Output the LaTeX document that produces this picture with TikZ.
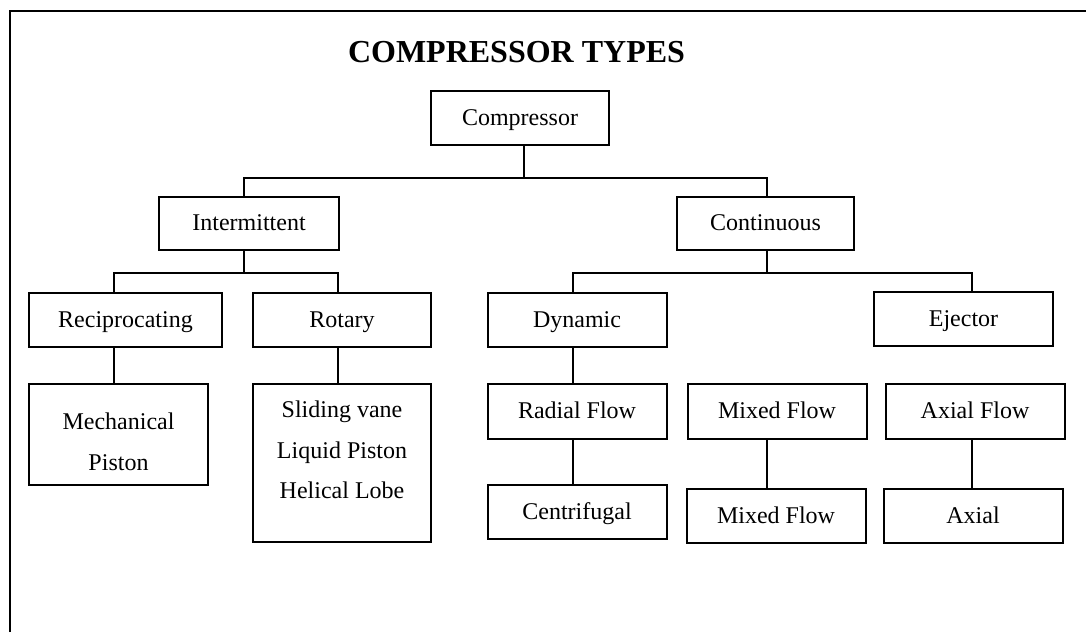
\documentclass[tikz,border=0pt]{standalone}
\usepackage{fontspec}
\setmainfont{Liberation Serif}
\tikzset{
  box/.style={draw, line width=1pt, inner sep=0pt, minimum width=89.5pt, minimum height=27pt, font=\fontsize{12}{20.25}\selectfont},
  onebox/.style={box, text height=9pt, text depth=2pt},
  link/.style={line width=0.9pt},
}
\begin{document}
\begin{tikzpicture}[x=0.5pt,y=-0.5pt]
\useasboundingbox (0,0) rectangle (1086,632);

% Outer frame (left and top edge)
\draw[line width=1.15pt] (10,632) -- (10,11) -- (1086,11);

% Title
\node[anchor=base, font=\fontsize{16}{19}\selectfont\bfseries] (title) at (516.5,62.7) {COMPRESSOR TYPES};

% Define nodes
\node[onebox, minimum width=89pt] (comp) at (520,118) {Compressor};
\node[onebox, minimum width=90pt, minimum height=26.5pt] (inter) at (249,223.5) {Intermittent};
\node[onebox, minimum width=88.5pt, minimum height=26.5pt] (cont) at (765.5,223.5) {Continuous};
\node[onebox, minimum width=96.5pt] (recip) at (125.5,320) {Reciprocating};
\node[onebox, minimum width=89pt] (rot) at (342,320) {Rotary};
\node[box, minimum width=89.5pt, minimum height=50.5pt] (mech) at (118.5,434.5)
  {\begin{tabular}{@{}c@{}}\noalign{\vskip7.5pt}Mechanical\\Piston\end{tabular}};
\node[box, minimum width=89pt, minimum height=79pt] (rotsub) at (342,463)
  {\begin{tabular}{@{}c@{}}Sliding vane\\Liquid Piston\\Helical Lobe\\[12.7pt]\end{tabular}};
\node[onebox] (dyn) at (577,320) {Dynamic};
\node[onebox] (eje) at (963.5,319) {Ejector};
\node[onebox, minimum height=27.5pt] (radial) at (577,411.5) {Radial Flow};
\node[onebox, minimum height=27.5pt] (mixed) at (777,411.5) {Mixed Flow};
\node[onebox, minimum height=27.5pt] (axialf) at (975,411.5) {Axial Flow};
\node[onebox] (centr) at (577,512) {Centrifugal};
\node[onebox] (mixed2) at (776,516) {Mixed Flow};
\node[onebox] (axial) at (973,516) {Axial};

% Define junctions
\coordinate (j0) at (524,178);
\coordinate (j1) at (244,178);
\coordinate (j2) at (767,178);
\coordinate (j3) at (244,273);
\coordinate (j4) at (114,273);
\coordinate (j5) at (338,273);
\coordinate (j6) at (767,273);
\coordinate (j7) at (573,273);
\coordinate (j8) at (972,273);

% Draw the connectors
\draw[link] (comp.south -| j0) -- (j0);
\draw[link] (inter.north -| j1) -- (j1) -- (j2) -- (cont.north -| j2);
\draw[link] (inter.south -| j3) -- (j3);
\draw[link] (recip.north -| j4) -- (j4) -- (j5) -- (rot.north -| j5);
\draw[link] (recip.south -| j4) -- (mech.north -| j4);
\draw[link] (rot.south -| j5) -- (rotsub.north -| j5);
\draw[link] (cont.south -| j6) -- (j6);
\draw[link] (dyn.north -| j7) -- (j7) -- (j8) -- (eje.north -| j8);
\draw[link] (dyn.south -| j7) -- (radial.north -| j7);
\draw[link] (radial.south -| j7) -- (centr.north -| j7);
\draw[link] (mixed.south -| j6) -- (mixed2.north -| j6);
\draw[link] (axialf.south -| j8) -- (axial.north -| j8);

\end{tikzpicture}
\end{document}
